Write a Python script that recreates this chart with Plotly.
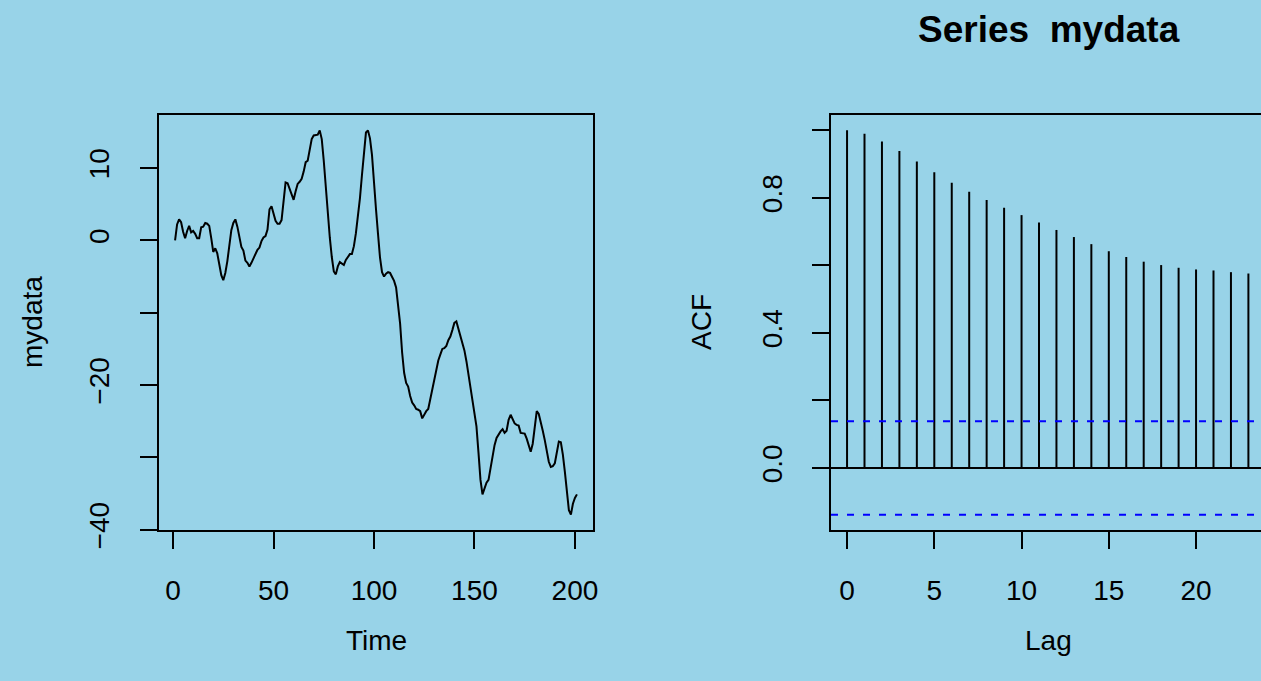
import numpy as np
import plotly.graph_objects as go

# Time series values, t = 1..201
mydata = [
    0.0, 2.2, 2.9, 2.5, 1.2, 0.3, 1.3, 2.0, 1.1, 1.3,
    0.9, 0.3, 0.3, 1.8, 1.9, 2.4, 2.3, 2.0, 0.3, -1.6,
    -1.1, -1.8, -3.3, -4.8, -5.5, -4.5, -2.9, -0.5, 1.4, 2.4,
    2.9, 1.9, 0.2, -0.9, -1.4, -2.8, -3.1, -3.6, -3.1, -2.5,
    -2.0, -1.3, -1.0, -0.1, 0.4, 0.6, 1.5, 4.3, 4.7, 3.5,
    2.7, 2.3, 2.3, 2.8, 5.0, 8.0, 7.9, 7.1, 6.1, 5.6,
    6.8, 7.8, 8.1, 8.5, 9.5, 10.8, 11.0, 12.5, 14.0, 14.5,
    14.6, 14.6, 15.2, 14.0, 11.0, 7.3, 3.8, 0.4, -2.3, -4.3,
    -4.7, -3.6, -3.0, -3.2, -3.4, -2.7, -2.2, -1.9, -1.9, -0.8,
    1.0, 3.1, 5.8, 9.0, 12.3, 14.9, 15.2, 14.1, 11.8, 8.6,
    4.3, 0.9, -2.4, -4.4, -5.0, -4.6, -4.4, -4.5, -5.0, -5.6,
    -6.5, -8.7, -11.5, -15.5, -18.3, -19.7, -20.2, -21.5, -22.4, -22.8,
    -23.3, -23.4, -23.6, -24.6, -24.0, -23.6, -23.3, -22.0, -20.7, -19.2,
    -17.8, -16.6, -15.8, -15.0, -14.9, -14.6, -13.8, -13.3, -12.4, -11.4,
    -11.2, -12.2, -13.3, -14.3, -15.2, -16.7, -18.5, -20.3, -22.1, -23.3,
    -25.7, -29.3, -33.1, -35.1, -34.2, -33.5, -33.1, -31.5, -29.8, -28.3,
    -27.3, -26.8, -26.4, -26.1, -26.6, -26.3, -24.8, -24.1, -24.8, -25.3,
    -25.5, -25.6, -26.6, -26.7, -26.7, -27.4, -28.5, -29.2, -28.1, -25.4,
    -23.6, -24.0, -25.0, -26.3, -27.6, -29.0, -30.6, -31.3, -31.2, -30.8,
    -29.2, -27.8, -27.9, -29.6, -32.0, -34.8, -37.3, -37.9, -36.4, -35.6,
    -35.1,
]
time_index = list(range(1, len(mydata) + 1))

# Sample autocorrelations, lags 0..23
acf_lags = list(range(24))
acf_values = [
    1.000, 0.990, 0.967, 0.939, 0.908, 0.876, 0.845, 0.818, 0.794, 0.771,
    0.749, 0.727, 0.705, 0.684, 0.663, 0.642, 0.625, 0.611, 0.601, 0.593,
    0.588, 0.585, 0.580, 0.576,
]

# Axis ticks and labels
ts_xticks = [0, 50, 100, 150, 200]
ts_yticks = [10, 0, -10, -20, -30, -40]
ts_yticklabels = ["10", "0", "", "\u221220", "", "\u221240"]
acf_xticks = [0, 5, 10, 15, 20]
acf_yticks = [0.0, 0.2, 0.4, 0.6, 0.8, 1.0]
acf_yticklabels = ["0.0", "", "0.4", "", "0.8", ""]

W, H = 1261, 681
BG = "#98D3E8"
FONT = "Liberation Sans, Arial, sans-serif"
FS = 28
LW = 2


def fx(p):
    return p / W


def fy(p):
    return 1 - p / H


def r_range(lo, hi):
    pad = 0.04 * (hi - lo)
    return [lo - pad, hi + pad]


n = len(mydata)
clim = 1.96 / np.sqrt(n)

fig = go.Figure()

# left panel: the series itself
fig.add_trace(go.Scatter(
    x=time_index, y=mydata, mode="lines",
    line=dict(color="black", width=LW),
    xaxis="x", yaxis="y", showlegend=False, hoverinfo="skip",
))

# right panel: ACF spikes from zero to each value
sx, sy = [], []
for lag, val in zip(acf_lags, acf_values):
    sx += [lag, lag, None]
    sy += [0, val, None]
fig.add_trace(go.Scatter(
    x=sx, y=sy, mode="lines",
    line=dict(color="black", width=LW),
    xaxis="x2", yaxis="y2", showlegend=False, hoverinfo="skip",
))

plot_top, plot_bottom = 115, 530
ydom = [fy(plot_bottom), fy(plot_top)]

axis_common = dict(
    showgrid=False, zeroline=False, showline=True, linecolor="black",
    linewidth=LW, ticks="outside", ticklen=17, tickwidth=LW, automargin=False,
    tickcolor="black", tickfont=dict(family=FONT, size=FS, color="black"),
)

acf_xrange_lo = -0.04 * (max(acf_lags) - min(acf_lags))
px_per_lag = 17.45
acf_xrange = [acf_xrange_lo, acf_xrange_lo + (W - 831) / px_per_lag]

label_font = dict(family=FONT, size=FS, color="black")


def label(text, px, py, angle=0, font=label_font):
    return dict(text=text, x=fx(px), y=fy(py), xref="paper", yref="paper",
                xanchor="center", yanchor="middle", textangle=angle,
                showarrow=False, font=font)


fig.update_layout(
    width=W, height=H,
    margin=dict(l=0, r=0, t=0, b=0, pad=0, autoexpand=False),
    paper_bgcolor=BG, plot_bgcolor=BG,
    xaxis=dict(
        domain=[fx(159), fx(593)], range=r_range(1, n), anchor="y",
        tickvals=ts_xticks, ticktext=[str(v) for v in ts_xticks],
        mirror=True, ticklabelstandoff=17, **axis_common,
    ),
    yaxis=dict(
        domain=ydom, range=r_range(min(mydata), max(mydata)), anchor="x",
        tickvals=ts_yticks, ticktext=ts_yticklabels, tickangle=-90,
        mirror=True, ticklabelstandoff=20, **axis_common,
    ),
    xaxis2=dict(
        domain=[fx(831), 1.0], range=acf_xrange, anchor="y2",
        tickvals=acf_xticks, ticktext=[str(v) for v in acf_xticks],
        mirror=True, ticklabelstandoff=17, **axis_common,
    ),
    yaxis2=dict(
        domain=ydom, range=r_range(min(-clim, min(acf_values)), max(clim, max(acf_values))),
        anchor="x2", tickvals=acf_yticks, ticktext=acf_yticklabels, tickangle=-90,
        mirror=False, ticklabelstandoff=19, **axis_common,
    ),
    shapes=[
        dict(type="line", xref="x2 domain", yref="y2", x0=0, x1=1, y0=0, y1=0,
             line=dict(color="black", width=LW)),
        dict(type="line", xref="x2 domain", yref="y2", x0=0, x1=1, y0=clim, y1=clim,
             line=dict(color="#0000FF", width=LW, dash="7px,9px")),
        dict(type="line", xref="x2 domain", yref="y2", x0=0, x1=1, y0=-clim, y1=-clim,
             line=dict(color="#0000FF", width=LW, dash="7px,9px")),
    ],
    annotations=[
        label("mydata", 32, 322, angle=-90),
        label("Time", 376, 640),
        label("ACF", 701, 322, angle=-90),
        label("Lag", 1048, 640),
        label("<b>Series  mydata</b>", 1049, 29,
              font=dict(family=FONT, size=37, color="black")),
    ],
)

fig.write_html("out.html")
